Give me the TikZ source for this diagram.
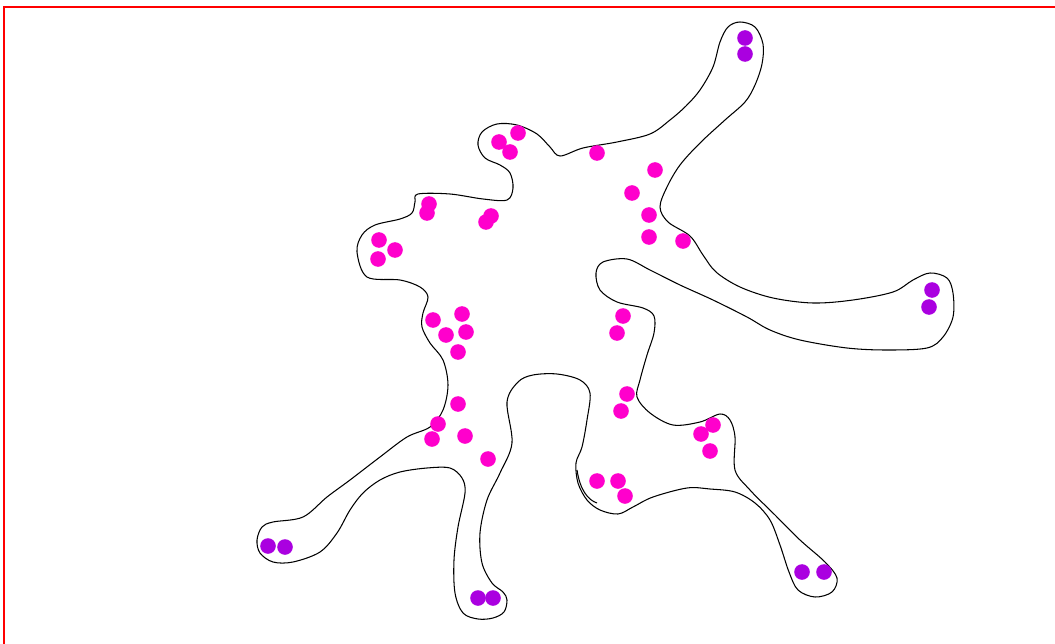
\documentclass[tikz,border=0pt]{standalone}
\usepackage{tikz}
\definecolor{dotpink}{RGB}{255,0,204}
\definecolor{dotpurple}{RGB}{170,0,224}

\begin{document}
\begin{tikzpicture}[x=0.025cm,y=-0.025cm]
\tikzstyle{pinkdot}=[circle,fill=dotpink,minimum size=0.39cm,inner sep=0pt]
\tikzstyle{purpledot}=[circle,fill=dotpurple,minimum size=0.39cm,inner sep=0pt]
\useasboundingbox (0,0) rectangle (1055,644);
% frame
\draw[red,line width=2pt] (4,644) -- (4,7) -- (1055,7);
% outline
\draw[line width=0.75pt] plot[smooth cycle,tension=0.55] coordinates {
	(418,194) (450,194) (483,199) (507,200) (513,188) (510,173) (500,165)
	(485,158) (478,145) (482,132) (497,124) (517,125) (537,134) (550,147)
	(560,156) (583,148) (617,142) (650,134) (670,120) (686,106) (700,90)
	(713,67) (720,42) (728,27) (740,22) (755,27) (763,44) (762,64)
	(755,85) (745,102) (725,120) (700,143) (680,165) (667,187) (660,207)
	(668,222) (690,236) (703,255) (716,272) (740,287) (773,298) (813,303)
	(853,300) (893,292) (913,280) (930,273) (947,278) (953,293) (953,317)
	(943,337) (927,348) (887,350) (847,348) (800,340) (770,330) (747,317)
	(713,300) (680,285) (650,270) (627,259) (603,262) (596,273) (600,290)
	(617,302) (643,308) (654,316) (654,333) (647,355) (640,380) (637,397)
	(650,413) (673,425) (700,422) (720,414) (730,420) (735,437) (735,470)
	(750,490) (775,515) (800,540) (825,562) (837,578) (832,592) (815,597)
	(798,590) (789,572) (780,545) (770,520) (755,503) (735,492) (710,489)
	(687,488) (653,497) (633,507) (618,514) (600,510) (587,500) (578,483)
	(576,463) (582,447) (587,420) (590,393) (580,380) (557,374) (533,375)
	(518,382) (507,402) (512,443) (500,473) (487,500) (480,533) (482,563)
	(492,583) (503,592) (507,600) (504,612) (493,618) (478,619) (463,613)
	(455,593) (454,560) (458,527) (465,493) (462,478) (450,468) (427,468)
	(400,472) (380,480) (363,493) (350,510) (337,533) (320,552) (293,562)
	(273,562) (260,553) (257,540) (262,527) (273,522) (303,517) (327,497)
	(350,480) (380,457) (407,437) (430,427) (443,410) (448,385) (443,360)
	(430,343) (422,327) (423,313) (428,297) (420,287) (400,280) (367,277)
	(357,252) (362,235) (375,225) (400,219) (412,213) (415,202)};
\draw[line width=0.75pt] (577,470) .. controls (580,490) and (588,500) .. (597,503);
% dots
\foreach \name/\point in {
	p1/{499,142}, p2/{518,133}, p3/{510,152}, p4/{597,153}, p5/{655,170},
	p6/{632,193}, p7/{649,215}, p8/{649,237}, p9/{683,241}, p10/{429,204},
	p11/{427,213}, p12/{491,216}, p13/{486,222}, p14/{379,240}, p15/{395,250},
	p16/{378,259}, p17/{433,320}, p18/{462,314}, p19/{446,335}, p20/{466,332},
	p21/{458,352}, p22/{623,316}, p23/{617,333}, p24/{458,404}, p25/{438,424},
	p26/{432,439}, p27/{465,436}, p28/{488,459}, p29/{627,394}, p30/{621,411},
	p31/{713,425}, p32/{701,434}, p33/{710,451}, p34/{597,481}, p35/{618,481},
	p36/{625,496}}
	\node[pinkdot] (\name) at (\point) {};
\foreach \name/\point in {
	q1/{745,38}, q2/{745,54}, q3/{932,290}, q4/{929,307}, q5/{268,546},
	q6/{285,547}, q7/{478,598}, q8/{493,598}, q9/{802,572}, q10/{824,572}}
	\node[purpledot] (\name) at (\point) {};
\end{tikzpicture}
\end{document}
